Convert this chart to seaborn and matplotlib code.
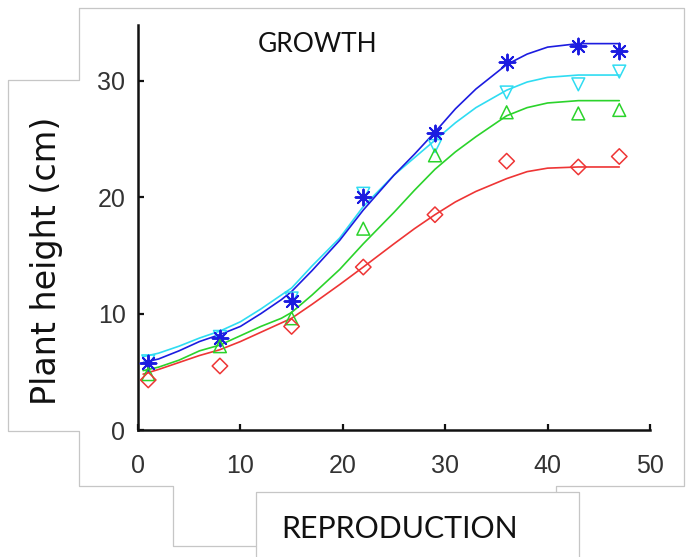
import matplotlib
matplotlib.use("Agg")
import matplotlib.pyplot as plt
import seaborn as sns
from matplotlib.lines import Line2D

obs_x = [1, 8, 15, 22, 29, 36, 43, 47]
blue_obs = [5.8, 7.9, 11.1, 20.0, 25.5, 31.6, 33.0, 32.6]
cyan_obs = [5.9, 8.0, 11.3, 20.3, 24.4, 29.0, 29.7, 30.8]
green_obs = [4.8, 7.2, 9.6, 17.3, 23.6, 27.3, 27.2, 27.5]
red_obs = [4.3, 5.5, 8.9, 14.0, 18.5, 23.1, 22.6, 23.5]

# fitted growth curves, sampled off the figure
fit_x = [0.5, 2, 4, 6, 8, 10, 12, 14, 15, 17, 19.7, 22, 25, 27, 29, 31, 33, 36, 38, 40, 43, 47]
blue_fit = [5.8, 6.1, 6.8, 7.6, 8.2, 8.9, 10.0, 11.2, 11.9, 13.7, 16.3, 18.9, 21.9,
            23.7, 25.6, 27.6, 29.3, 31.4, 32.3, 32.9, 33.2, 33.2]
cyan_fit = [6.3, 6.6, 7.2, 7.9, 8.5, 9.3, 10.4, 11.6, 12.2, 14.1, 16.5, 19.2, 21.9,
            23.4, 24.9, 26.4, 27.7, 29.2, 29.9, 30.3, 30.5, 30.5]
green_fit = [5.1, 5.4, 6.0, 6.8, 7.3, 8.1, 8.9, 9.6, 10.1, 11.6, 13.8, 16.0, 18.7,
             20.6, 22.4, 23.9, 25.2, 27.0, 27.7, 28.1, 28.3, 28.3]
red_fit = [4.8, 5.2, 5.8, 6.4, 6.9, 7.6, 8.4, 9.2, 9.6, 10.8, 12.5, 14.0, 16.0,
           17.3, 18.5, 19.6, 20.5, 21.6, 22.2, 22.5, 22.6, 22.6]

x_ticks = [0, 10, 20, 30, 40, 50]
y_ticks = [0, 10, 20, 30]

W, H = 687, 557


def px(x, y):
    # pixel position -> figure fraction
    return x / W, 1 - y / H


sns.set_style("ticks")
plt.rcParams["font.family"] = ["Liberation Sans", "DejaVu Sans"]

fig = plt.figure(figsize=(W / 100, H / 100), dpi=100)

# outlines of the pasted panels
outline = [
    [(79, 8), (684, 8), (684, 486), (556, 486), (556, 492)],
    [(256, 557), (256, 492), (579, 492), (579, 557)],
    [(256, 546), (173, 546), (173, 486), (79, 486), (79, 431),
     (8, 431), (8, 80), (79, 80), (79, 8)],
]
for seg in outline:
    xs, ys = zip(*[px(*p) for p in seg])
    fig.add_artist(Line2D(xs, ys, color="#c6c6c6", lw=0.9))

x0, y0 = px(138, 430)
x1, y1 = px(650, 25)
ax = fig.add_axes([x0, y0, x1 - x0, y1 - y0])
ax.set_facecolor("none")

series = [
    (cyan_fit, cyan_obs, "v", 85, "#2fdcf2"),
    (blue_fit, blue_obs, (8, 2, 0), 130, "#1c1ce0"),
    (green_fit, green_obs, "^", 85, "#2bd32b"),
    (red_fit, red_obs, "D", 62, "#ee3535"),
]
for fit, obs, mk, size, col in series:
    sns.lineplot(x=fit_x, y=fit, color=col, lw=1.2, ax=ax)
    if isinstance(mk, tuple):
        # asterisk is a line marker, it takes the face colour
        sns.scatterplot(x=obs_x, y=obs, marker=mk, s=size, color=col,
                        linewidth=1.4, ax=ax, zorder=3)
    else:
        sns.scatterplot(x=obs_x, y=obs, marker=mk, s=size, facecolor="none",
                        edgecolor=col, linewidth=1.1, ax=ax, zorder=3)

ax.set_xlim(0, 50)
ax.set_ylim(0, 34.8)
ax.set_xticks(x_ticks)
ax.set_yticks(y_ticks)
sns.despine(ax=ax)
for s in ["left", "bottom"]:
    ax.spines[s].set_linewidth(1.8)
    ax.spines[s].set_color("#111111")
ax.tick_params(direction="in", length=4, width=1.6, labelsize=18,
               labelcolor="#333333", color="#111111")
ax.tick_params(axis="x", pad=17)
ax.tick_params(axis="y", pad=9)
ax.set_xlabel("")
ax.set_ylabel("")

fig.text(*px(258, 52), "GROWTH", family="Lato", fontsize=19,
         ha="left", va="baseline", color="#111111")
fig.text(*px(400, 538), "REPRODUCTION", family="Lato", fontsize=21.8,
         ha="center", va="baseline", color="#111111")
fig.text(*px(47, 261), "Plant height (cm)", family="DejaVu Sans", fontsize=24,
         rotation=90, ha="center", va="center", color="#111111")

fig.savefig("out.png", dpi=100)
